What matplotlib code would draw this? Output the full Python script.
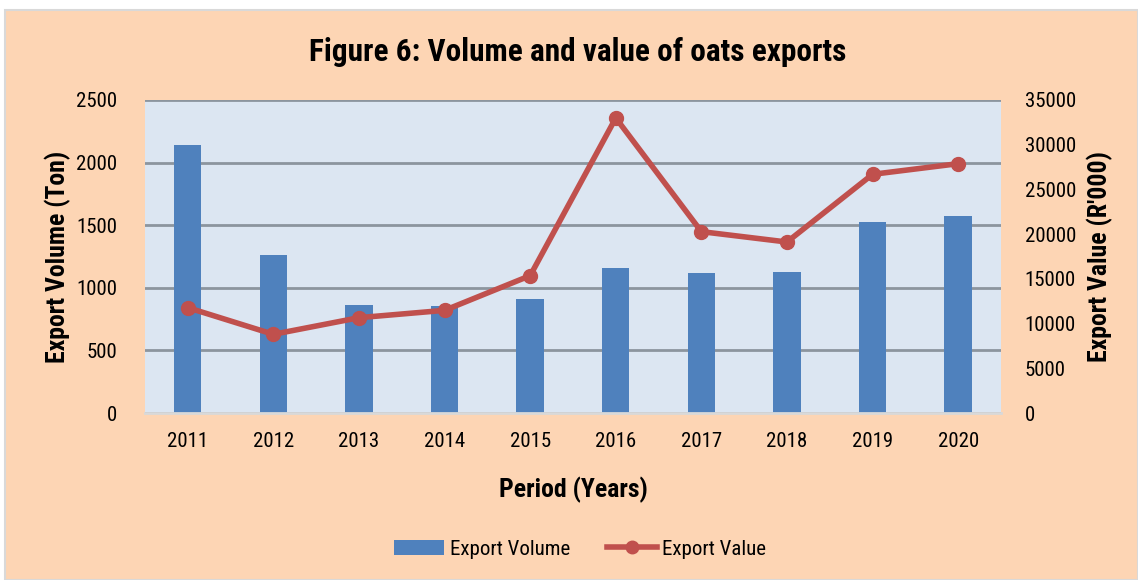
import matplotlib
matplotlib.use("Agg")
import matplotlib.pyplot as plt
from matplotlib.patches import Rectangle
import numpy as np

years = ["2011", "2012", "2013", "2014", "2015", "2016", "2017", "2018", "2019", "2020"]
volume = [2140, 1262, 863, 855, 911, 1158, 1118, 1130, 1525, 1573]
value = [11780, 8800, 10660, 11480, 15360, 32990, 20280, 19120, 26690, 27880]

plt.rcParams["font.family"] = ["Roboto Condensed", "DejaVu Sans"]

fig = plt.figure(figsize=(11.38, 5.8), dpi=100)
fig.patch.set_facecolor("white")
# peach chart area, thin grey strip at the top like the reference
bg = Rectangle((0.004, 0.0), 0.996, 0.983, transform=fig.transFigure,
               facecolor="#FDD5B4", edgecolor="#D9D9D9", lw=1.5, zorder=-10)
fig.patches.append(bg)

ax = fig.add_axes([0.1274, 0.2879, 0.7522, 0.5397])
ax.set_facecolor("#DCE6F2")
x = np.arange(len(years))

bars = ax.bar(x, volume, width=0.32, color="#4F81BD", zorder=2, label="Export Volume")
ax.set_xlim(-0.5, 9.5)
ax.set_ylim(0, 2500)
ax.set_yticks(range(0, 2501, 500))
ax.set_xticks(x)
ax.set_xticklabels(years)
ax.yaxis.grid(True, color="#8C959E", lw=2, zorder=1)
ax.set_axisbelow(True)
for s in ["left", "right", "top"]:
    ax.spines[s].set_visible(False)
ax.spines["bottom"].set_color("#D9D9D9")
ax.spines["bottom"].set_linewidth(2)
ax.tick_params(length=0, labelsize=15, pad=14)
ax.tick_params(axis="y", pad=20)

ax2 = ax.twinx()
line, = ax2.plot(x, value, color="#C0504D", lw=4, marker="o", ms=10, zorder=3,
                 label="Export Value")
ax2.set_ylim(0, 35000)
ax2.set_yticks(range(0, 35001, 5000))
for s in ["left", "right", "top", "bottom"]:
    ax2.spines[s].set_visible(False)
ax2.tick_params(length=0, labelsize=15, pad=17)

ax.set_ylabel("Export Volume (Ton)", fontsize=18.5, fontweight="bold", labelpad=4)
ax2.set_ylabel("Export Value (R'000)", fontsize=18.5, fontweight="bold", labelpad=8)
ax.set_xlabel("Period (Years)", fontsize=18.5, fontweight="bold", labelpad=18)

fig.text(0.508, 0.91, "Figure 6: Volume and value of oats exports", ha="center", va="center",
         fontsize=22.5, fontweight="bold")

fig.legend([bars, line], ["Export Volume", "Export Value"], loc="center",
           bbox_to_anchor=(0.51, 0.053), ncol=2, frameon=False, fontsize=15,
           handlelength=2.4, columnspacing=1.8, handletextpad=0.25, markerscale=0.9)

fig.savefig("out.png", dpi=100, facecolor=fig.get_facecolor())
